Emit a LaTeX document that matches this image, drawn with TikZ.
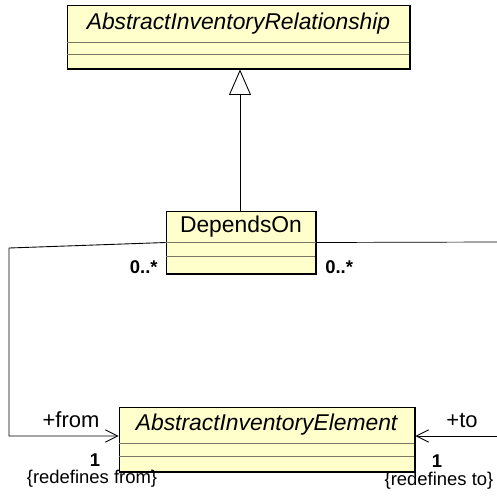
\documentclass[tikz,border=0pt]{standalone}
\usepackage{fontspec}
\setmainfont{Liberation Sans}
\usetikzlibrary{arrows.meta,positioning,calc}
\definecolor{classyellow}{RGB}{255,255,204}
\definecolor{divgray}{RGB}{120,120,100}
\tikzset{
	classbox/.style={draw, fill=classyellow, line width=0.5pt, inner sep=0pt},
	classname/.style={font=\fontsize{13}{15}\selectfont},
	divider/.style={draw=divgray, line width=0.5pt},
	assoc/.style={line width=0.5pt, -{Straight Barb[length=7pt, width=7pt]}},
	gener/.style={line width=0.5pt, -{Triangle[open, length=14.5pt, width=12.5pt, fill=white]}},
	mult/.style={font=\fontsize{10.5}{12}\selectfont\bfseries, inner sep=0pt},
	role/.style={font=\fontsize{12.5}{14}\selectfont, inner sep=0pt},
	constr/.style={font=\fontsize{10.5}{12}\selectfont, inner sep=0pt}
}
\begin{document}
\begin{tikzpicture}[x=0.02cm, y=-0.02cm]
	\useasboundingbox (0,0) rectangle (497,495);
	
	% classes
	\node[classbox, minimum width=6.86cm, minimum height=1.28cm] (rel) at (238.5,37) {};
	\draw[divider] (rel.west |- 0,42) -- (rel.east |- 0,42);
	\draw[divider] (rel.west |- 0,54) -- (rel.east |- 0,54);
	\draw[line width=1.2pt] (rel.south west) -- (rel.south east) -- (rel.north east);
	\node[classname] (relname) at (238.5,23.5) {\textit{AbstractInventoryRelationship}};
	
	\node[classbox, minimum width=3cm, minimum height=1.26cm] (dep) at (241,242.5) {};
	\draw[divider] (dep.west |- 0,256) -- (dep.east |- 0,256);
	\draw[line width=1.2pt] (dep.south west) -- (dep.south east) -- (dep.north east);
	\node[classname] (depname) at (241,227) {DependsOn};
	
	\node[classbox, minimum width=5.92cm, minimum height=1.3cm] (elem) at (267,439.5) {};
	\draw[divider] (elem.west |- 0,443) -- (elem.east |- 0,443);
	\draw[divider] (elem.west |- 0,456) -- (elem.east |- 0,456);
	\draw[line width=1.2pt] (elem.south west) -- (elem.south east) -- (elem.north east);
	\node[classname] (elemname) at (267,425) {\textit{AbstractInventoryElement}};
	
	% dividers of DependsOn below the connectors
	\draw[divider] (dep.west) -- (dep.east);
	
	% generalisation
	\draw[gener] (dep.north -| 240,0) -- (rel.south -| 240,0);
	
	% associations
	\coordinate (fromcorner) at (9,248);
	\coordinate (frombend) at (9,436);
	\coordinate (fromend) at (elem.west |- 0,436);
	\draw[assoc] (dep.west) -- (fromcorner) -- (frombend) -- (fromend);
	
	\coordinate (toout) at (497,242);
	\coordinate (toin) at (497,436);
	\coordinate (toend) at (elem.east |- 0,436);
	\draw (dep.east) -- (toout);
	\draw[assoc] (toin) -- (toend);
	
	% labels
	\node[mult, anchor=east] (multfrom) at (158,267) {0..*};
	\node[mult, anchor=west] (multto) at (325,267) {0..*};
	\node[role] (rolefrom) at (71,420) {+from};
	\node[role] (roleto) at (462,420) {+to};
	\node[mult] (onefrom) at (95,460) {1};
	\node[mult] (oneto) at (437,461) {1};
	\node[constr] (redeffrom) at (92,479) {\{redefines from\}};
	\node[constr] (redefto) at (439,481) {\{redefines to\}};
	
\end{tikzpicture}
\end{document}
